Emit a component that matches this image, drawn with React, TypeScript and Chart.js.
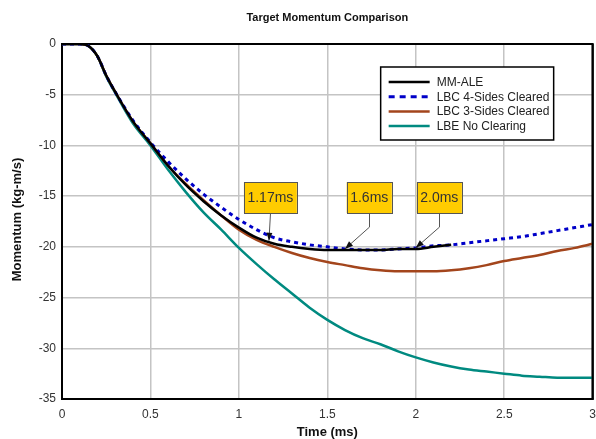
import React, { useEffect, useRef } from "react";
import { Chart, registerables } from "chart.js";

Chart.register(...registerables);

// ---------- data ----------
const times = [0, 0.1, 0.15, 0.2, 0.25, 0.3, 0.4, 0.5, 0.6, 0.7, 0.8, 0.9, 1.0, 1.1, 1.2, 1.3, 1.4, 1.5, 1.6, 1.7, 1.8, 1.9, 2.0, 2.1, 2.2, 2.3, 2.4, 2.5, 2.6, 2.7, 2.8, 2.9, 3.0];

const mmAle = [0, 0, -0.2, -1.2, -3.1, -4.7, -7.6, -9.8, -12.0, -13.9, -15.5, -16.9, -18.1, -19.1, -19.7, -20.0, -20.2, -20.3, -20.3, -20.3, -20.3, -20.2, -20.2, -20.0, -19.8, null, null, null, null, null, null, null, null];
const lbc4 = [0, 0, -0.2, -1.2, -3.1, -4.7, -7.5, -9.7, -11.6, -13.3, -14.8, -16.1, -17.3, -18.3, -19.1, -19.5, -19.8, -20.0, -20.2, -20.3, -20.3, -20.2, -20.1, -19.9, -19.8, -19.6, -19.4, -19.2, -19.0, -18.7, -18.4, -18.1, -17.8];
const lbc3 = [0, 0, -0.2, -1.2, -3.1, -4.7, -7.6, -9.8, -12.0, -13.8, -15.4, -16.9, -18.3, -19.3, -20.0, -20.6, -21.1, -21.5, -21.8, -22.1, -22.3, -22.4, -22.4, -22.4, -22.3, -22.1, -21.8, -21.4, -21.1, -20.8, -20.4, -20.1, -19.7];
const lbeNoClearing = [0, 0, -0.2, -1.2, -3.2, -4.8, -7.8, -10.0, -12.4, -14.6, -16.6, -18.3, -20.1, -21.7, -23.2, -24.6, -26.0, -27.2, -28.2, -29.0, -29.6, -30.3, -30.9, -31.4, -31.8, -32.1, -32.3, -32.5, -32.7, -32.8, -32.9, -32.9, -32.9];

const seriesNames = ["MM-ALE", "LBC 4-Sides Cleared", "LBC 3-Sides Cleared", "LBE No Clearing"];

const xTicks = [0, 0.5, 1, 1.5, 2, 2.5, 3];
const yTicks = [0, -5, -10, -15, -20, -25, -30, -35];

const calloutLabels = ["1.17ms", "1.6ms", "2.0ms"];
const calloutTimes = [1.17, 1.6, 2.0];
const calloutValues = [-19.4, -20.2, -20.1];

const titleText = "Target Momentum Comparison";
const xTitle = "Time (ms)";
const yTitle = "Momentum (kg-m/s)";

// ---------- styles ----------
const FONT = "'Liberation Sans', Arial, sans-serif";
const colors = ["#000000", "#0000c8", "#a3451c", "#008a80"];
const widths = [2.5, 3, 2.5, 2.5];
const dashes: number[][] = [[], [4, 4], [], []];
const legendDashes: number[][] = [[], [6, 5], [], []];

// callout box anchors (data units)
const boxCenters = [1.178, 1.737, 2.133];
const boxBottomValue = -16.67;

const pts = (ys: (number | null)[]) => times.map((t, i) => ({ x: t, y: ys[i] }));

const decorPlugin = {
  id: "decor",
  beforeDatasetsDraw(chart: any) {
    const { ctx, chartArea: a } = chart;
    ctx.save();
    ctx.strokeStyle = "#000";
    ctx.lineWidth = 2;
    ctx.strokeRect(a.left, a.top, a.right - a.left, a.bottom - a.top);
    ctx.restore();
  },
  afterDatasetsDraw(chart: any) {
    const { ctx, chartArea: a, scales } = chart;
    const xs = scales.x;
    const ys = scales.y;
    ctx.save();
    ctx.strokeStyle = "#000";
    ctx.lineWidth = 2;
    ctx.beginPath();
    ctx.moveTo(a.right, a.top);
    ctx.lineTo(a.right, a.bottom);
    ctx.stroke();

    // callouts
    ctx.font = `14px ${FONT}`;
    for (let i = 0; i < calloutLabels.length; i++) {
      const label = calloutLabels[i];
      const tw = ctx.measureText(label).width;
      const bw = tw + 7;
      const bh = 31;
      const cx = xs.getPixelForValue(boxCenters[i]);
      const bottom = ys.getPixelForValue(boxBottomValue);
      const left = cx - bw / 2;
      const top = bottom - bh;
      ctx.fillStyle = "#ffcc00";
      ctx.fillRect(left, top, bw, bh);
      ctx.strokeStyle = "#555";
      ctx.lineWidth = 1;
      ctx.strokeRect(Math.round(left) + 0.5, Math.round(top) + 0.5, Math.round(bw), Math.round(bh));
      ctx.fillStyle = "#333";
      ctx.textAlign = "center";
      ctx.textBaseline = "middle";
      ctx.fillText(label, cx, top + bh / 2 + 1);

      // arrow
      const tx = xs.getPixelForValue(calloutTimes[i]);
      const ty = ys.getPixelForValue(calloutValues[i]);
      const sx = Math.round(cx) + 0.5;
      ctx.strokeStyle = "#555";
      ctx.lineWidth = 1;
      ctx.beginPath();
      ctx.moveTo(sx, bottom);
      let px = sx, py = bottom;
      if (Math.abs(tx - cx) > 3) {
        py = bottom + 14;
        ctx.lineTo(sx, py);
      }
      ctx.lineTo(tx, ty);
      ctx.stroke();
      const ang = Math.atan2(ty - py, tx - px);
      const L = 8, W = 3;
      ctx.fillStyle = "#111";
      ctx.beginPath();
      ctx.moveTo(tx, ty);
      ctx.lineTo(tx - L * Math.cos(ang) + W * Math.sin(ang), ty - L * Math.sin(ang) - W * Math.cos(ang));
      ctx.lineTo(tx - L * Math.cos(ang) - W * Math.sin(ang), ty - L * Math.sin(ang) + W * Math.cos(ang));
      ctx.closePath();
      ctx.fill();
    }

    // legend
    const lw = 173, lh = 73;
    const lx = a.right - 39 - lw;
    const ly = a.top + 23;
    ctx.fillStyle = "#fff";
    ctx.fillRect(lx, ly, lw, lh);
    ctx.strokeStyle = "#000";
    ctx.lineWidth = 1.5;
    ctx.strokeRect(lx, ly, lw, lh);
    ctx.font = `12px ${FONT}`;
    ctx.textAlign = "left";
    ctx.textBaseline = "middle";
    for (let i = 0; i < seriesNames.length; i++) {
      const ry = ly + 15 + i * 14.7;
      ctx.strokeStyle = colors[i];
      ctx.lineWidth = widths[i];
      ctx.setLineDash(legendDashes[i]);
      ctx.beginPath();
      ctx.moveTo(lx + 8, ry);
      ctx.lineTo(lx + 49, ry);
      ctx.stroke();
      ctx.setLineDash([]);
      ctx.fillStyle = "#222";
      ctx.fillText(seriesNames[i], lx + 56, ry + 0.5);
    }
    ctx.restore();
  },
  afterDraw(chart: any) {
    const { ctx, chartArea: a } = chart;
    ctx.save();
    ctx.fillStyle = "#111";
    ctx.textAlign = "center";
    ctx.textBaseline = "middle";
    const cx = (a.left + a.right) / 2;
    ctx.font = `bold 11px ${FONT}`;
    ctx.fillText(titleText, cx, 18);
    ctx.font = `bold 13px ${FONT}`;
    ctx.fillText(xTitle, cx, 432);
    ctx.translate(17, (a.top + a.bottom) / 2 - 2);
    ctx.rotate(-Math.PI / 2);
    ctx.fillText(yTitle, 0, 0);
    ctx.restore();
  },
};

export default function App() {
  const ref = useRef<HTMLCanvasElement | null>(null);
  useEffect(() => {
    document.body.style.margin = "0";
    const canvas = ref.current;
    if (!canvas) return;
    const allSeries = [mmAle, lbc4, lbc3, lbeNoClearing];
    const chart = new Chart(canvas, {
      type: "line",
      data: {
        datasets: allSeries.map((s, i) => ({
          label: seriesNames[i],
          data: pts(s),
          borderColor: colors[i],
          backgroundColor: colors[i],
          borderWidth: widths[i],
          borderDash: dashes[i],
          pointRadius: 0,
          fill: false,
          cubicInterpolationMode: "monotone" as const,
          spanGaps: false,
        })),
      },
      options: {
        animation: false,
        responsive: false,
        devicePixelRatio: 1,
        layout: { padding: { top: 44, left: 0, right: 0, bottom: 0 } },
        plugins: {
          legend: { display: false },
          title: { display: false },
          tooltip: { enabled: false },
        },
        scales: {
          x: {
            type: "linear",
            min: 0,
            max: 3,
            afterBuildTicks: (s: any) => {
              s.ticks = xTicks.map((v) => ({ value: v }));
            },
            afterFit: (s: any) => {
              s.height = 40;
            },
            ticks: {
              callback: (v: any) => String(v),
              font: { family: FONT, size: 12 },
              color: "#333",
              padding: 8,
              maxRotation: 0,
              autoSkip: false,
            },
            grid: { color: "#c4c4c4", lineWidth: 1.5, drawTicks: false },
            border: { display: true, color: "#000", width: 2 },
          },
          y: {
            type: "linear",
            min: -35,
            max: 0,
            afterBuildTicks: (s: any) => {
              s.ticks = yTicks.map((v) => ({ value: v }));
            },
            afterFit: (s: any) => {
              s.width = 62;
            },
            ticks: {
              callback: (v: any) => String(v),
              font: { family: FONT, size: 12 },
              color: "#333",
              padding: 6,
              autoSkip: false,
            },
            grid: { color: "#c4c4c4", lineWidth: 1.5, drawTicks: false },
            border: { display: true, color: "#000", width: 2 },
          },
        },
      },
      plugins: [decorPlugin],
    });
    return () => chart.destroy();
  }, []);
  return (
    <div style={{ width: 596, height: 439, overflow: "hidden", background: "#fff" }}>
      <canvas ref={ref} width={604} height={439} style={{ display: "block" }} />
    </div>
  );
}
